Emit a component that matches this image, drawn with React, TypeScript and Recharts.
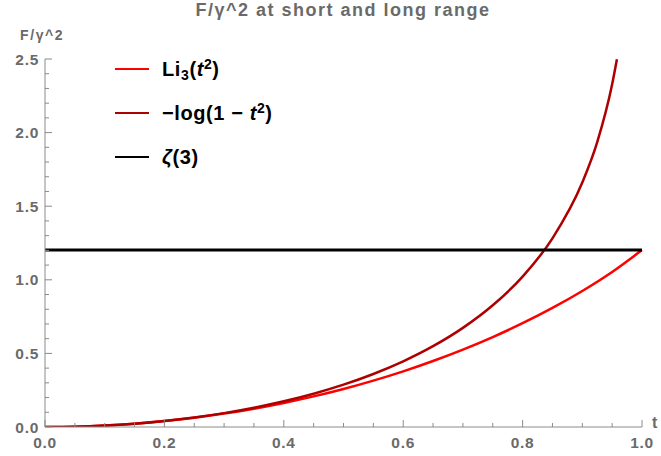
import { LineChart, Line, XAxis, YAxis, Legend } from "recharts";

// values
const tValues = [0, 0.05, 0.1, 0.15, 0.2, 0.25, 0.3, 0.35, 0.4, 0.45, 0.5, 0.55, 0.6, 0.65, 0.7, 0.75, 0.8, 0.85, 0.9, 0.95, 1.0];
const li3Values = [0, 0.0025, 0.01, 0.0226, 0.0402, 0.063, 0.091, 0.1245, 0.1634, 0.208, 0.2584, 0.3151, 0.3782, 0.4482, 0.5256, 0.6109, 0.7049, 0.8087, 0.9238, 1.053, 1.202];

const logT = [0, 0.05, 0.1, 0.15, 0.2, 0.25, 0.3, 0.35, 0.4, 0.45, 0.5, 0.55, 0.6, 0.65, 0.7, 0.75, 0.8, 0.85, 0.9, 0.925, 0.95, 0.958];
const logValues = [0, 0.0025, 0.01, 0.0228, 0.0408, 0.0645, 0.0943, 0.1307, 0.1744, 0.2263, 0.2877, 0.3603, 0.4463, 0.549, 0.6733, 0.8267, 1.0217, 1.2819, 1.6607, 1.9354, 2.3279, 2.498];

const zetaT = [0, 1];
const zetaValue = 1.202;

// minor ticks every 0.05 (x) and 0.1 (y), labelled ones listed separately
const xTicks = [0, 0.05, 0.1, 0.15, 0.2, 0.25, 0.3, 0.35, 0.4, 0.45, 0.5, 0.55, 0.6, 0.65, 0.7, 0.75, 0.8, 0.85, 0.9, 0.95, 1.0];
const xMajor = [0, 0.2, 0.4, 0.6, 0.8, 1.0];
const yTicks = [0, 0.1, 0.2, 0.3, 0.4, 0.5, 0.6, 0.7, 0.8, 0.9, 1.0, 1.1, 1.2, 1.3, 1.4, 1.5, 1.6, 1.7, 1.8, 1.9, 2.0, 2.1, 2.2, 2.3, 2.4, 2.5];
const yMajor = [0, 0.5, 1.0, 1.5, 2.0, 2.5];

const li3Data = tValues.map((t, i) => ({ t, v: li3Values[i] }));
const logData = logT.map((t, i) => ({ t, v: logValues[i] }));
const zetaData = zetaT.map((t) => ({ t, v: zetaValue }));

const FONT = '"Liberation Sans", Arial, sans-serif';
const GRAY = "#6a6a6a";
const AXIS = "#8a8a8a";

const isMajor = (v: number, list: number[]) => list.some((m) => Math.abs(m - v) < 1e-9);

function XTick(props: any) {
  const { x, y, payload } = props;
  const major = isMajor(payload.value, xMajor);
  return (
    <g>
      <line x1={x} y1={y} x2={x} y2={y - (major ? 7 : 4)} stroke={AXIS} />
      {major && (
        <text x={x} y={y + 21} textAnchor="middle" fill={GRAY} fontSize={15.5} fontWeight="bold" fontFamily={FONT} letterSpacing={0.7}>
          {payload.value.toFixed(1)}
        </text>
      )}
    </g>
  );
}

function YTick(props: any) {
  const { x, y, payload } = props;
  const major = isMajor(payload.value, yMajor);
  return (
    <g>
      <line x1={x} y1={y} x2={x + (major ? 7 : 4)} y2={y} stroke={AXIS} />
      {major && (
        <text x={x - 6} y={y + 5.5} textAnchor="end" fill={GRAY} fontSize={15.5} fontWeight="bold" fontFamily={FONT} letterSpacing={0.7}>
          {payload.value.toFixed(1)}
        </text>
      )}
    </g>
  );
}

const supStyle = { fontSize: 14, verticalAlign: "0.5em", lineHeight: 0 } as const;
const subStyle = { fontSize: 14, verticalAlign: "-0.25em", lineHeight: 0 } as const;

const legendLabels: Record<string, any> = {
  li3: (
    <span>
      Li<span style={subStyle}>3</span>(<i>t</i><span style={supStyle}>2</span>)
    </span>
  ),
  log: (
    <span>
      −log(1 − <i>t</i><span style={supStyle}>2</span>)
    </span>
  ),
  zeta: (
    <span>
      <i>ζ</i>(3)
    </span>
  ),
};

function LegendBox(props: any) {
  const { payload } = props;
  return (
    <div style={{ fontFamily: FONT, fontWeight: "bold", fontSize: 20, letterSpacing: 0.6, color: "#000" }}>
      {payload.map((p: any) => (
        <div key={p.value} style={{ display: "flex", alignItems: "center", height: 44 }}>
          <div style={{ width: 34, height: 2.5, background: p.color, marginRight: 13 }} />
          {legendLabels[p.value]}
        </div>
      ))}
    </div>
  );
}

export default function App() {
  return (
    <div style={{ position: "absolute", left: 0, top: 0, width: 661, height: 456, background: "#fff" }}>
      <div
        style={{
          position: "absolute",
          left: 0,
          width: 686,
          top: 0,
          textAlign: "center",
          fontFamily: FONT,
          fontWeight: "bold",
          fontSize: 18,
          letterSpacing: 1.5,
          color: GRAY,
        }}
      >
        F/γ^2 at short and long range
      </div>
      <div style={{ position: "absolute", left: 20, top: 27, fontFamily: FONT, fontWeight: "bold", fontSize: 14, letterSpacing: 1.6, color: GRAY }}>
        F/γ^2
      </div>
      <div style={{ position: "absolute", left: 652, top: 414, fontFamily: FONT, fontWeight: "bold", fontSize: 16, color: GRAY }}>
        t
      </div>
      <LineChart width={661} height={456} margin={{ top: 59, right: 19, bottom: 0, left: 0 }}>
        <XAxis
          type="number"
          dataKey="t"
          domain={[0, 1]}
          ticks={xTicks}
          interval={0}
          height={29}
          tickSize={0}
          tickMargin={0}
          tick={<XTick />}
          stroke={AXIS}
          allowDuplicatedCategory={false}
        />
        <YAxis
          type="number"
          domain={[0, 2.5]}
          ticks={yTicks}
          interval={0}
          width={45}
          tickSize={0}
          tickMargin={0}
          tick={<YTick />}
          stroke={AXIS}
          allowDataOverflow
        />
        <Legend
          layout="vertical"
          align="center"
          verticalAlign="middle"
          content={<LegendBox />}
          wrapperStyle={{ left: 115, top: 47, width: 260 }}
        />
        <Line data={li3Data} dataKey="v" name="li3" type="monotone" stroke="#ff0000" strokeWidth={2.5} dot={false} isAnimationActive={false} />
        <Line data={logData} dataKey="v" name="log" type="monotone" stroke="#ad0000" strokeWidth={2.5} dot={false} isAnimationActive={false} />
        <Line data={zetaData} dataKey="v" name="zeta" type="linear" stroke="#000000" strokeWidth={3} dot={false} isAnimationActive={false} />
      </LineChart>
    </div>
  );
}
